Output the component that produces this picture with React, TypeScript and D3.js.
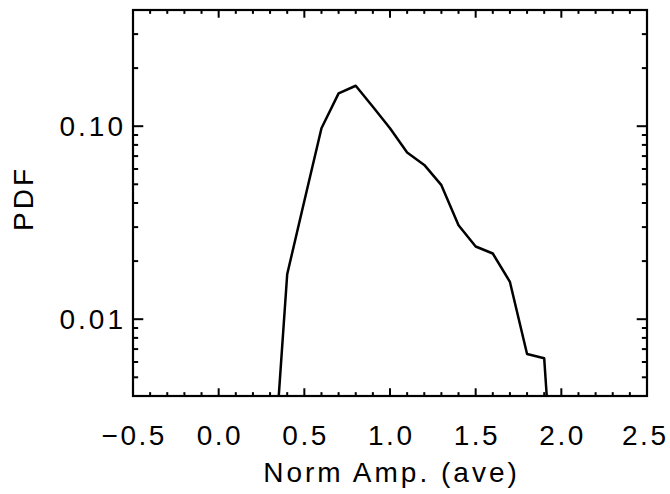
import React from "react";
import * as d3 from "d3";

const ampValues = [0.3, 0.4, 0.5, 0.6, 0.7, 0.8, 0.9, 1.0, 1.1, 1.2, 1.3, 1.4, 1.5, 1.6, 1.7, 1.8, 1.9, 2.0];
const pdfValues = [0.0009, 0.0171, 0.041, 0.0975, 0.148, 0.162, 0.126, 0.0975, 0.073, 0.063, 0.0495, 0.0307, 0.0238, 0.0219, 0.0156, 0.0066, 0.00627, 0.0003];

const xMajorTicks = [-0.5, 0.0, 0.5, 1.0, 1.5, 2.0, 2.5];
const xTickLabels = ["\u22120.5", "0.0", "0.5", "1.0", "1.5", "2.0", "2.5"];
const yMajorTicks = [0.01, 0.1];
const yTickLabels = ["0.01", "0.10"];
const yMinorTicks = [0.005, 0.006, 0.007, 0.008, 0.009, 0.02, 0.03, 0.04, 0.05, 0.06, 0.07, 0.08, 0.09, 0.2, 0.3];

const W = 670;
const H = 494;
const left = 133;
const right = 647;
const top = 10;
const bottom = 396;

export default function App() {
  const x = d3.scaleLinear().domain([-0.5, 2.5]).range([left, right]);
  const y = d3.scaleLog().domain([0.004, 0.4]).range([bottom, top]);
  const xMinor = d3.range(-5, 26).map((i) => i / 10).filter((v) => Math.abs(v * 2 - Math.round(v * 2)) > 1e-6);
  const pts = ampValues.map((a, i) => [a, pdfValues[i]] as [number, number]);
  const line = d3.line<[number, number]>().x((d) => x(d[0])).y((d) => y(d[1]));
  const xMajLen = 0.02 * (bottom - top);
  const yMajLen = 0.02 * (right - left);
  const font = "'Liberation Sans', Arial, sans-serif";
  const ls = 3;
  const lsTick = 2.5;
  return (
    <svg width={W} height={H} style={{ position: "absolute", left: 0, top: 0, background: "#fff" }}>
      <defs>
        <clipPath id="plotclip">
          <rect x={left} y={top} width={right - left} height={bottom - top} />
        </clipPath>
      </defs>
      <rect x={0} y={0} width={W} height={H} fill="#fff" />
      <path d={line(pts) || ""} fill="none" stroke="#000" strokeWidth={2.5} strokeLinejoin="round" clipPath="url(#plotclip)" />
      <g stroke="#000" strokeWidth={2}>
        {xMajorTicks.map((v) => (
          <g key={"xM" + v}>
            <line x1={x(v)} x2={x(v)} y1={bottom} y2={bottom - xMajLen} />
            <line x1={x(v)} x2={x(v)} y1={top} y2={top + xMajLen} />
          </g>
        ))}
        {xMinor.map((v) => (
          <g key={"xm" + v}>
            <line x1={x(v)} x2={x(v)} y1={bottom} y2={bottom - xMajLen / 2} />
            <line x1={x(v)} x2={x(v)} y1={top} y2={top + xMajLen / 2} />
          </g>
        ))}
        {yMajorTicks.map((v) => (
          <g key={"yM" + v}>
            <line x1={left} x2={left + yMajLen} y1={y(v)} y2={y(v)} />
            <line x1={right} x2={right - yMajLen} y1={y(v)} y2={y(v)} />
          </g>
        ))}
        {yMinorTicks.map((v) => (
          <g key={"ym" + v}>
            <line x1={left} x2={left + yMajLen / 2} y1={y(v)} y2={y(v)} />
            <line x1={right} x2={right - yMajLen / 2} y1={y(v)} y2={y(v)} />
          </g>
        ))}
      </g>
      <rect x={left} y={top} width={right - left} height={bottom - top} fill="none" stroke="#000" strokeWidth={2.2} />
      <g fontFamily={font} fontSize={28} fill="#000">
        {xMajorTicks.map((v, i) => (
          <text key={"xl" + v} x={Math.min(x(v), 644) + lsTick / 2} y={445} textAnchor="middle" letterSpacing={lsTick}>{xTickLabels[i]}</text>
        ))}
        {yMajorTicks.map((v, i) => (
          <text key={"yl" + v} x={left - 10 + ls} y={y(v)} dy="0.36em" textAnchor="end" letterSpacing={ls}>{yTickLabels[i]}</text>
        ))}
        <text x={(left + right) / 2 + ls / 2} y={482} textAnchor="middle" letterSpacing={ls}>Norm Amp. (ave)</text>
        <text transform={`translate(33,${200 - ls / 2}) rotate(-90)`} textAnchor="middle" letterSpacing={ls}>PDF</text>
      </g>
    </svg>
  );
}
